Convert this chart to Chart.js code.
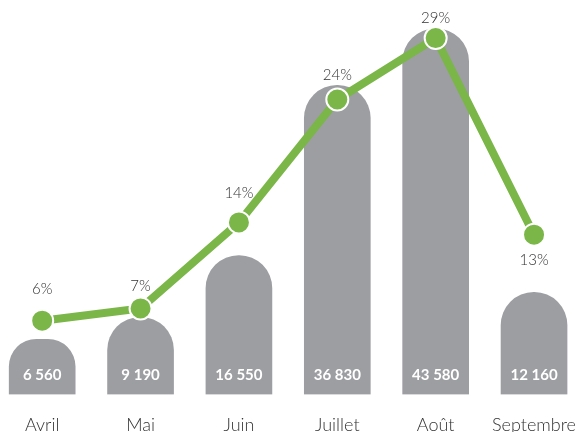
<!DOCTYPE html>
<html>
<head>
<meta charset="utf-8">
<script src="https://cdn.jsdelivr.net/npm/chart.js@4"></script>
<style>
  html, body { margin: 0; padding: 0; background: #fff; overflow: hidden; width: 579px; height: 432px; }
  #visitChart { position: absolute; left: -7px; top: 0; }
</style>
</head>
<body>
<canvas id="visitChart" width="603" height="456"></canvas>
<script>
const months = ['Avril', 'Mai', 'Juin', 'Juillet', 'Août', 'Septembre'];
const visitors = [6560, 9190, 16550, 36830, 43580, 12160];
const shares = [6, 7, 14, 24, 29, 13];

const grey = '#9d9ea2';
const green = '#7ab648';
// vertical shift of each % label from its point (negative = above)
const shareLabelShift = [-32, -22, -29, -24, -20, 25];

function fmt(n) {
    return String(n).replace(/\B(?=(\d{3})+(?!\d))/g, ' ');
}

// draws the numbers inside bars and the % next to the points
const labelsPlugin = {
    id: 'labels',
    afterDatasetsDraw(chart) {
        const ctx = chart.ctx;
        ctx.save();
        ctx.textAlign = 'center';
        ctx.textBaseline = 'middle';

        const bars = chart.getDatasetMeta(1).data;
        ctx.fillStyle = '#ffffff';
        ctx.font = 'bold 15px Lato';
        bars.forEach((bar, i) => {
            ctx.fillText(fmt(visitors[i]), bar.x, chart.chartArea.bottom - 19);
        });

        const pts = chart.getDatasetMeta(0).data;
        ctx.fillStyle = '#333';
        ctx.font = '300 15px Lato';
        pts.forEach((p, i) => {
            ctx.fillText(shares[i] + '%', p.x, p.y + shareLabelShift[i]);
        });
        ctx.restore();
    }
};

const ctx = document.getElementById('visitChart').getContext('2d');

new Chart(ctx, {
    data: {
        labels: months,
        datasets: [{
            type: 'line',
            data: shares,
            yAxisID: 'y1',
            borderColor: green,
            borderWidth: 8,
            pointRadius: 11,
            pointHoverRadius: 11,
            pointBackgroundColor: green,
            pointBorderColor: '#fff',
            pointBorderWidth: 2,
            tension: 0,
            clip: false,
            order: 0
        }, {
            type: 'bar',
            data: visitors,
            yAxisID: 'y',
            backgroundColor: grey,
            barThickness: 66,
            borderRadius: { topLeft: 33, topRight: 33, bottomLeft: 0, bottomRight: 0 },
            borderSkipped: false,
            order: 1
        }]
    },
    options: {
        responsive: false,
        animation: false,
        layout: { padding: 0, autoPadding: false },
        plugins: {
            legend: { display: false },
            tooltip: { enabled: false }
        },
        scales: {
            x: {
                grid: { display: false, drawTicks: false },
                border: { display: false },
                ticks: {
                    color: '#333',
                    font: { family: 'Lato', size: 18, weight: '300' },
                    padding: 20,
                    maxRotation: 0
                }
            },
            y: { display: false, min: 0, max: 47000 },
            y1: { display: false, min: 0, max: 32.1 }
        }
    },
    plugins: [labelsPlugin]
});
</script>
</body>
</html>
